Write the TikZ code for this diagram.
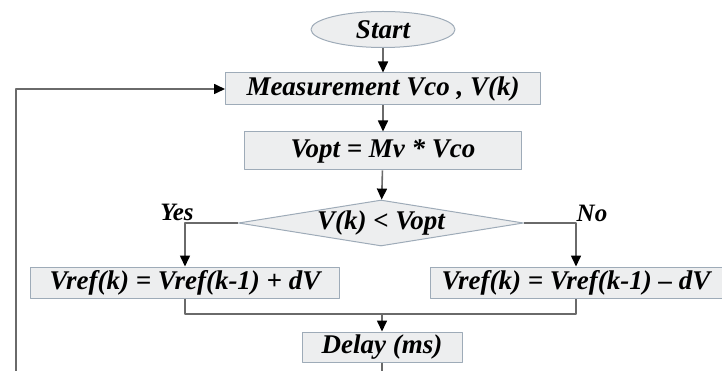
\documentclass[tikz,border=0pt]{standalone}
\usepackage{fontspec}
\setmainfont{Liberation Serif}
\usetikzlibrary{arrows.meta,shapes.geometric}

\definecolor{boxfill}{HTML}{EDEEEF}
\definecolor{boxedge}{HTML}{9EABB8}
\definecolor{linegray}{HTML}{6A6A6A}

\tikzset{
  procbox/.style={draw=boxedge, fill=boxfill, line width=1pt, inner sep=0pt,
    font=\fontsize{27}{30}\selectfont\bfseries\itshape},
  termbox/.style={procbox, ellipse},
  testbox/.style={procbox, diamond, aspect=6},
  answer/.style={font=\fontsize{25}{28}\selectfont\bfseries\itshape},
  flowline/.style={draw=linegray, line width=1.6pt,
    -{Triangle[length=11pt,width=10pt,color=black]}},
}

\begin{document}
\begin{tikzpicture}[x=1pt, y=-1pt, line join=round]
  \clip (0,0) rectangle (722,371);

  \node[termbox, minimum width=144pt, minimum height=36pt] (start) at (383,29.5) {Start};
  \node[procbox, minimum width=315pt, minimum height=32pt] (meas) at (383,89) {Measurement Vco , V(k)};
  \node[procbox, minimum width=277pt, minimum height=38pt] (vopt) at (383,151) {Vopt = Mv * Vco};
  \node[testbox, minimum width=285pt, minimum height=46pt] (test) at (381,223) {V(k) < Vopt};
  \node[procbox, minimum width=309pt, minimum height=31pt] (incr) at (185,282.5) {Vref(k) = Vref(k-1) + dV};
  \node[procbox, minimum width=292pt, minimum height=31pt] (decr) at (576,282.5) {Vref(k) = Vref(k-1) -- dV};
  \node[procbox, minimum width=160pt, minimum height=30pt] (delay) at (382,347) {Delay (ms)};

  \node[answer] (yes) at (177,212) {Yes};
  \node[answer] (no) at (592,213) {No};

  \coordinate (merge) at (382,314);
  % loop back runs below the visible area
  \coordinate (loopR) at (382,390);
  \coordinate (loopL) at (16,390);

  \path[flowline] (start) -- (meas);
  \path[flowline] (meas) -- (vopt);
  \path[flowline] (vopt) -- (test);
  \path[flowline] (test.west) -| (incr.north);
  \path[flowline] (test.east) -| (decr.north);
  \draw[draw=linegray, line width=1.6pt] (incr.south) |- (merge) -| (decr.south);
  \path[flowline] (merge) -- (delay);
  \path[flowline] (delay.south) -- (loopR) -- (loopL) |- (meas.west);
\end{tikzpicture}
\end{document}
